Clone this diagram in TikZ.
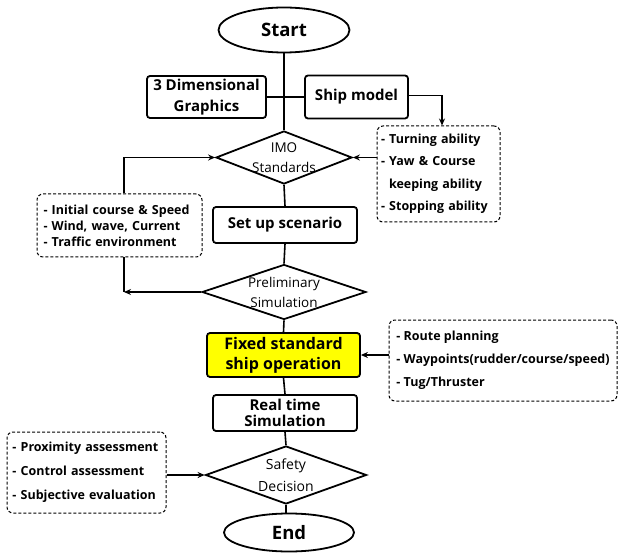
\documentclass[tikz,border=0pt]{standalone}
\usepackage{fontspec}
\setmainfont{Open Sans}
\usetikzlibrary{shapes.geometric,arrows.meta}
\begin{document}
\begin{tikzpicture}[x=1pt,y=-1pt,
  box/.style={draw,line width=1.8pt,rounded corners=3pt,align=center,inner sep=0pt,font=\bfseries\fontsize{15}{19}\selectfont},
  term/.style={draw,ellipse,line width=1.8pt,inner sep=0pt,font=\bfseries\fontsize{18.5}{22}\selectfont},
  dec/.style={draw,diamond,line width=1.8pt,inner sep=0pt},
  dectext/.style={font=\fontsize{13.5}{20}\selectfont,align=center},
  note/.style={draw,dashed,dash pattern=on 3pt off 2pt,line width=1pt,rounded corners=6pt,align=left,inner sep=0pt,font=\bfseries\fontsize{12.5}{16}\selectfont},
  conn/.style={line width=1.6pt},
  arr/.style={conn,-{Stealth[length=7pt,width=6pt]}}]
\useasboundingbox (0,0) rectangle (618,553);

\node[term,minimum width=131pt,minimum height=45pt] (start) at (284,30) {Start};
\node[box,minimum width=119pt,minimum height=42pt,font=\bfseries\fontsize{15}{21}\selectfont] (gfx) at (206.5,97) {3 Dimensional\\Graphics};
\node[box,minimum width=103pt,minimum height=43pt] (ship) at (356.5,97) {Ship model};
\node[dec,minimum width=136pt,minimum height=53pt,label={[dectext]center:IMO\\Standards}] (imo) at (284,157.5) {};
\node[note,minimum width=123pt,minimum height=96pt,text width=115pt,font=\bfseries\fontsize{12.5}{22.5}\selectfont] (nr1) at (438.5,174) {- Turning ability\\- Yaw \& Course\\\hspace*{8pt}keeping ability\\- Stopping ability};
\node[note,minimum width=165pt,minimum height=63pt,text width=152pt] (nl1) at (119.5,225.5) {- Initial course \& Speed\\- Wind, wave, Current\\- Traffic environment};
\node[box,minimum width=144pt,minimum height=36pt] (setup) at (285,225) {Set up scenario};
\node[dec,minimum width=164pt,minimum height=55pt,label={[dectext]center:Preliminary\\Simulation}] (prelim) at (284,292) {};
\node[box,fill={rgb,255:red,255;green,255;blue,0},minimum width=153pt,minimum height=44pt,font=\bfseries\fontsize{16}{20}\selectfont] (fixed) at (283.5,355) {Fixed standard\\ship operation};
\node[note,minimum width=228pt,minimum height=81pt,font=\bfseries\fontsize{12.5}{23}\selectfont] (nr2) at (503,360.5) {- Route planning\\- Waypoints(rudder/course/speed)\\- Tug/Thruster};
\node[box,minimum width=144pt,minimum height=36pt,font=\bfseries\fontsize{15}{15.5}\selectfont] (real) at (285,413) {Real time\\Simulation};
\node[dec,minimum width=161pt,minimum height=58pt,label={[dectext,font=\fontsize{14}{22}\selectfont]center:Safety\\Decision}] (safety) at (286,475) {};
\node[term,minimum width=130pt,minimum height=38pt] (end) at (289,532.5) {End};
\node[note,minimum width=159pt,minimum height=81pt,text width=148pt,font=\bfseries\fontsize{12.5}{24}\selectfont] (nl2) at (86.5,472.5) {- Proximity assessment\\- Control assessment\\- Subjective evaluation};

\coordinate (c1) at (442,95.5);
\coordinate (c2) at (124,157.5);
\coordinate (c3) at (124,292);

\draw[conn] (start.south) -- (imo.north);
\draw[conn] (gfx.east) -- (ship.west);
\draw[arr] (ship.east |- c1) -- (c1) -- (c1 |- nr1.north);
\draw[arr] (nr1.west |- imo.east) -- (imo.east);
\draw[conn] (imo.south) -- (setup.north);
\draw[conn] (setup.south) -- (prelim.north);
\draw[conn] (prelim.south) -- (fixed.north);
\draw[conn] (fixed.south) -- (real.north);
\draw[conn] (real.south) -- (safety.north);
\draw[conn] (safety.south) -- (safety.south |- end.north);
\draw[arr] (c2 |- nl1.north) -- (c2) -- (imo.west);
\draw[conn] (c3 |- nl1.south) -- (c3);
\draw[arr] (prelim.west) -- (c3);
\draw[arr] (nr2.west |- fixed.east) -- (fixed.east);
\draw[arr] (nl2.east |- safety.west) -- (safety.west);
\end{tikzpicture}
\end{document}
